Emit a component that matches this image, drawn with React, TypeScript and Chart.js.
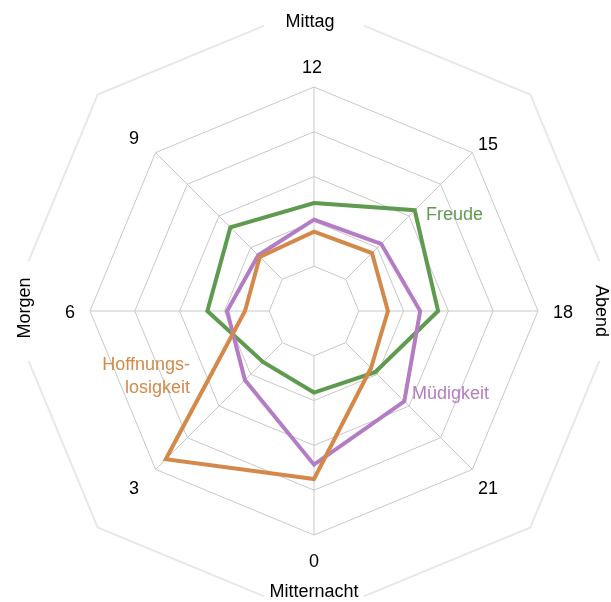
import React, { useEffect, useRef } from 'react';
import { Chart, registerables } from 'chart.js';

Chart.register(...registerables);

// Hour axes, clockwise from the top
const hours = ['12', '15', '18', '21', '0', '3', '6', '9'];
// Series values (scale 0..5)
const freude = [2.41, 3.18, 2.77, 1.93, 1.82, 1.61, 2.38, 2.64];
const muedigkeit = [2.04, 2.12, 2.37, 2.85, 3.43, 2.18, 1.94, 1.76];
const hoffnungslosigkeit = [1.77, 1.83, 1.65, 1.8, 3.75, 4.68, 1.54, 1.71];
const seriesNames = ['Freude', 'Müdigkeit', 'Hoffnungslosigkeit'];
const ringValues = [1, 2, 3, 4, 5];
const periodLabels = ['Mittag', 'Abend', 'Mitternacht', 'Morgen'];

// label placement (offsets from the chart centre, in px)
const hourLabelOffsets: [number, number][] = [
  [-2, -244], [174, -167], [249, 1], [174, 177], [0, 250], [-180, 177], [-244, 1], [-180, -173],
];

const GREEN = '#5f9b4f';
const PURPLE = '#b47cc5';
const ORANGE = '#d4894a';
const GRID = '#c8c8c8';
const FONT = '18px "Liberation Sans", Arial, Helvetica, sans-serif';

const decor = {
  id: 'decor',
  beforeDatasetsDraw(chart: any) {
    const s = chart.scales.r;
    const ctx = chart.ctx as CanvasRenderingContext2D;
    const n = hours.length;
    const xc = s.xCenter;
    const yc = s.yCenter;
    ctx.save();

    // angle lines, from the first ring outwards
    ctx.strokeStyle = GRID;
    ctx.lineWidth = 1;
    const inner = s.getDistanceFromCenterForValue(ringValues[0]);
    const outer = s.getDistanceFromCenterForValue(ringValues[ringValues.length - 1]);
    for (let i = 0; i < n; i++) {
      const a = s.getPointPosition(i, inner);
      const b = s.getPointPosition(i, outer);
      ctx.beginPath();
      ctx.moveTo(a.x, a.y);
      ctx.lineTo(b.x, b.y);
      ctx.stroke();
    }

    // outer decorative octagon with gaps at the period labels
    const D = s.drawingArea * 1.366;
    const f = 0.77;
    ctx.strokeStyle = '#e8e8e8';
    ctx.lineWidth = 2;
    for (let i = 1; i < n; i += 2) {
      const v = s.getPointPosition(i, D);
      const p = s.getPointPosition(i - 1, D);
      const q = s.getPointPosition((i + 1) % n, D);
      ctx.beginPath();
      ctx.moveTo(v.x + (p.x - v.x) * f, v.y + (p.y - v.y) * f);
      ctx.lineTo(v.x, v.y);
      ctx.lineTo(v.x + (q.x - v.x) * f, v.y + (q.y - v.y) * f);
      ctx.stroke();
    }

    // hour labels
    ctx.font = FONT;
    ctx.fillStyle = '#000';
    ctx.textAlign = 'center';
    ctx.textBaseline = 'middle';
    for (let i = 0; i < n; i++) {
      const [dx, dy] = hourLabelOffsets[i];
      ctx.fillText(hours[i], xc + dx, yc + dy + 1);
    }

    // period labels
    ctx.fillText(periodLabels[0], xc - 4, yc - 289);
    ctx.fillText(periodLabels[2], xc, yc + 281);
    ctx.save();
    ctx.translate(xc + 287, yc);
    ctx.rotate(Math.PI / 2);
    ctx.fillText(periodLabels[1], 0, 0);
    ctx.restore();
    ctx.save();
    ctx.translate(xc - 289, yc - 3);
    ctx.rotate(-Math.PI / 2);
    ctx.fillText(periodLabels[3], 0, 0);
    ctx.restore();

    // series labels
    ctx.textAlign = 'left';
    ctx.fillStyle = GREEN;
    ctx.fillText(seriesNames[0], xc + 112, yc - 96);
    ctx.fillStyle = PURPLE;
    ctx.fillText(seriesNames[1], xc + 98, yc + 83);
    ctx.textAlign = 'right';
    ctx.fillStyle = ORANGE;
    ctx.fillText('Hoffnungs-', xc - 124, yc + 54);
    ctx.fillText('losigkeit', xc - 124, yc + 77);

    ctx.restore();
  },
};

export default function App() {
  const ref = useRef<HTMLCanvasElement>(null);

  useEffect(() => {
    if (!ref.current) return;
    const chart = new Chart(ref.current, {
      type: 'radar',
      data: {
        labels: hours,
        datasets: [
          {
            label: seriesNames[0],
            data: freude,
            borderColor: GREEN,
            backgroundColor: 'transparent',
            fill: false,
            order: 3,
          },
          {
            label: seriesNames[1],
            data: muedigkeit,
            borderColor: PURPLE,
            backgroundColor: 'transparent',
            fill: false,
            order: 2,
          },
          {
            label: seriesNames[2],
            data: hoffnungslosigkeit,
            borderColor: ORANGE,
            backgroundColor: 'transparent',
            fill: false,
            order: 1,
          },
        ],
      },
      options: {
        responsive: false,
        animation: false,
        devicePixelRatio: 1,
        layout: { padding: { left: 90, right: 72, top: 87, bottom: 66 } },
        elements: {
          point: { radius: 0, hoverRadius: 0 },
          line: { borderWidth: 4, tension: 0, borderJoinStyle: 'miter' },
        },
        plugins: {
          legend: { display: false },
          tooltip: { enabled: false },
        },
        scales: {
          r: {
            min: 0,
            max: 5,
            ticks: { display: false, stepSize: 1 },
            grid: { color: GRID, lineWidth: 1 },
            angleLines: { display: false },
            pointLabels: { display: false },
          },
        },
      },
      plugins: [decor],
    } as any);
    return () => chart.destroy();
  }, []);

  return (
    <div style={{ position: 'absolute', left: 0, top: 0, width: 611, height: 602, background: '#fff' }}>
      <canvas ref={ref} width={611} height={602} style={{ display: 'block', width: 611, height: 602 }} />
    </div>
  );
}
